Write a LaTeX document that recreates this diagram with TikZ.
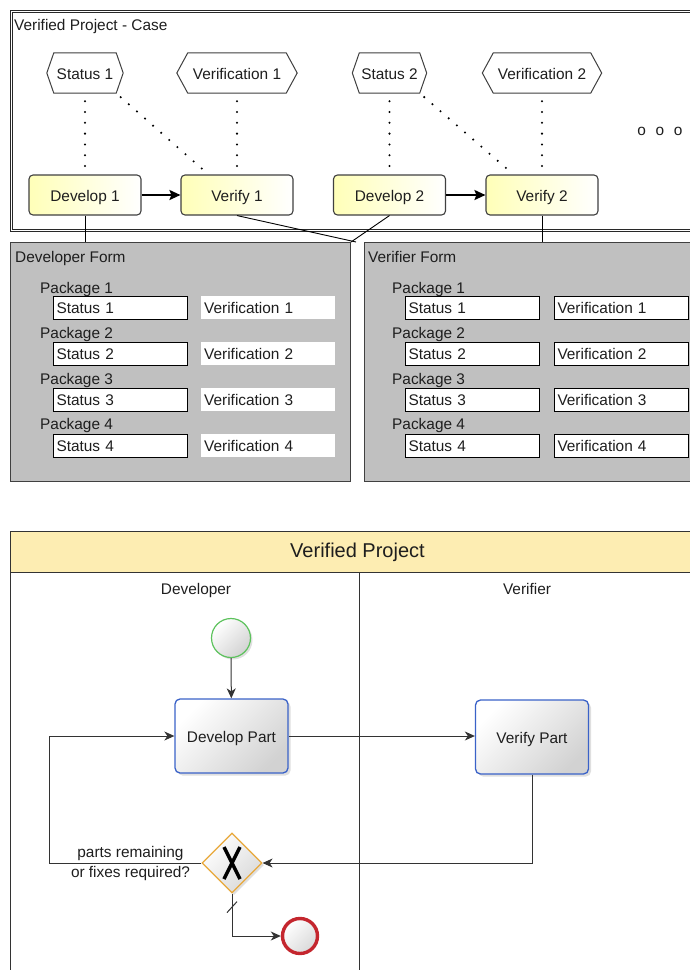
\documentclass[tikz,border=0pt]{standalone}
\usepackage{fontspec}
\setmainfont{Liberation Sans}
\usetikzlibrary{arrows.meta,shapes.geometric,shadows,calc}
\definecolor{txt}{HTML}{1E1E1E}
\definecolor{frame}{HTML}{282828}
\definecolor{edge}{HTML}{404040}
\definecolor{yel}{HTML}{FFFF9A}
\definecolor{formgray}{HTML}{C0C0C0}
\definecolor{poolyellow}{HTML}{FDEDB2}
\definecolor{taskblue}{HTML}{3A62C8}
\definecolor{startgreen}{HTML}{5CC25C}
\definecolor{gwor}{HTML}{E8A83A}
\definecolor{endred}{HTML}{C4262E}
\definecolor{seqcol}{HTML}{333333}
\newcommand{\fsz}{\fontsize{15.4}{18.5}\selectfont}
\begin{document}
\begin{tikzpicture}[x=1pt,y=-1pt,
  every node/.style={font=\fsz, text=txt},
  tb/.style={text height=12pt, text depth=0pt},
  lbl/.style={anchor=west, inner sep=0pt, tb},
  task/.style={draw=edge, line width=1.1pt, rounded corners=4pt, left color=yel!70, right color=white, minimum width=112pt, minimum height=40pt, inner sep=0pt, tb},
  hexbox/.style={minimum height=40pt, inner sep=0pt},
  hexline/.style={draw=edge, line width=1pt, fill=white},
  dots/.style={draw=black, line width=2.3pt, line cap=round, dash pattern=on 0pt off 10.8pt},
  bigflow/.style={draw=black, line width=2pt, -{Stealth[length=11pt,width=10pt,inset=2pt]}},
  conn/.style={draw=black, line width=0.9pt},
  form/.style={draw=edge, fill=formgray, line width=1pt, inner sep=0pt, anchor=north west},
  fieldb/.style={draw=black, line width=1pt, fill=white, anchor=west, text width=128pt, inner xsep=3pt, inner ysep=0pt, minimum height=23pt, align=left, tb},
  fieldn/.style={fill=white, anchor=west, text width=128pt, inner xsep=3pt, inner ysep=0pt, minimum height=23pt, align=left, tb},
  pool/.style={draw=seqcol, line width=1pt, inner sep=0pt, anchor=north west},
  bpmntask/.style={draw=taskblue, line width=1.3pt, rounded corners=5pt, top color=white, bottom color=gray!35, shading angle=45, minimum width=113pt, minimum height=74pt, inner sep=0pt, tb, drop shadow={opacity=0.25, shadow xshift=2.5pt, shadow yshift=-2.5pt}},
  seq/.style={draw=seqcol, line width=1pt, -{Stealth[length=10pt,width=9pt,inset=3pt]}},
  seqline/.style={draw=seqcol, line width=1pt}
]
\useasboundingbox (0,0) rectangle (690,970);

% ---------- top frame ----------
\draw[draw=frame, line width=1.3pt, double=white, double distance=1.2pt] (11.5,11.5) rectangle (700,230.5);
\node[lbl] (casetitle) at (14,24) {Verified Project - Case};

% forms
\node[form, minimum width=340pt, minimum height=239pt] (devform) at (10,242) {};
\node[form, minimum width=345pt, minimum height=239pt] (verform) at (364,242) {};
\node[lbl] (devtitle) at (15,256) {Developer Form};
\node[lbl] (vertitle) at (368,256) {Verifier Form};
\foreach \i [evaluate=\i as \yp using 287+45.6*(\i-1), evaluate=\i as \yb using 307.5+46*(\i-1)] in {1,...,4} {
  \node[lbl] (dpk\i) at (40,\yp) {Package \i};
  \node[fieldb] (dst\i) at (53,\yb) {Status \i};
  \node[fieldn] (dvf\i) at (201,\yb) {Verification \i};
  \node[lbl] (vpk\i) at (392,\yp) {Package \i};
  \node[fieldb] (vst\i) at (405,\yb) {Status \i};
  \node[fieldb] (vvf\i) at (554,\yb) {Verification \i};
}

% tasks
\node[task] (d1) at (85,195) {Develop 1};
\node[task] (v1) at (237,195) {Verify 1};
\node[task] (d2) at (389.5,195) {Develop 2};
\node[task] (v2) at (542,195) {Verify 2};

% hexagon data objects
\node[hexbox, minimum width=62pt] (s1) at (85,73) {};
\node[hexbox, minimum width=98pt] (h1) at (237,73) {};
\node[hexbox, minimum width=60pt] (s2) at (389.5,73) {};
\node[hexbox, minimum width=97pt] (h2) at (542,73) {};
\foreach \n/\e in {s1/7, h1/11, s2/7, h2/11}
  \draw[hexline] (\n.north west) -- (\n.north east) -- ([xshift=\e pt]\n.east) -- (\n.south east) -- (\n.south west) -- ([xshift=-\e pt]\n.west) -- cycle;
\node[tb] at (s1) {Status 1};
\node[tb] at (h1) {Verification 1};
\node[tb] at (s2) {Status 2};
\node[tb] at (h2) {Verification 2};

% dotted associations
\draw[dots, shorten <=8pt, shorten >=8pt] (s1.south) -- (d1.north);
\draw[dots, shorten <=8pt, shorten >=8pt] (h1.south) -- (v1.north);
\draw[dots, shorten <=8pt, shorten >=8pt] (s2.south) -- (d2.north);
\draw[dots, shorten <=8pt, shorten >=8pt] (h2.south) -- (v2.north);
\draw[dots, shorten <=6pt, shorten >=3pt] (s1.south east) -- ($(v1.north west)+(28,0)$);
\draw[dots, shorten <=6pt, shorten >=3pt] (s2.south east) -- ($(v2.north west)+(28,0)$);

% flows
\draw[bigflow] (d1) -- (v1);
\draw[bigflow] (d2) -- (v2);

\node (more) at (660,131) {o\hspace{9.7pt}o\hspace{9.7pt}o};

% links to forms
\draw[conn] (d1.south) -- (d1.south |- devform.north);
\draw[conn] (v2.south) -- (v2.south |- verform.north);
\draw[conn] (v1.south) -- ([xshift=5pt]devform.north east);
\draw[conn] (d2.south) -- (devform.north east);

% ---------- pool ----------
\node[pool, fill=poolyellow, minimum width=694pt, minimum height=41pt, font=\fontsize{20}{24}\selectfont] (poolhead) at (10,531) {Verified Project};
\node[pool, minimum width=349pt, minimum height=420pt] (devlane) at (10,572) {};
\node[pool, minimum width=345pt, minimum height=420pt] (verlane) at (359,572) {};
\node[tb] (devlbl) at (196,588) {Developer};
\node[tb] (verlbl) at (527,588) {Verifier};

\node[circle, draw=startgreen, line width=1.2pt, minimum size=39pt, inner sep=0pt, top color=white, bottom color=gray!35, shading angle=45, drop shadow={opacity=0.25, shadow xshift=2pt, shadow yshift=-2pt}] (start) at (231,638) {};
\node[bpmntask] (dp) at (231.5,736) {Develop Part};
\node[bpmntask] (vp) at (532,737) {Verify Part};
\node[diamond, draw=gwor, line width=1.2pt, minimum width=60pt, minimum height=60pt, inner sep=0pt, top color=white, bottom color=gray!30, shading angle=45, drop shadow={opacity=0.25, shadow xshift=2pt, shadow yshift=-2pt}] (gw) at (232,863) {};
\draw[line width=3.4pt, black] ($(gw.center)+(-8,-16)$) -- ($(gw.center)+(8,16)$);
\draw[line width=3.4pt, black] ($(gw.center)+(8,-16)$) -- ($(gw.center)+(-8,16)$);
\node[circle, draw=endred, line width=3.4pt, minimum size=35pt, inner sep=0pt, top color=white, bottom color=gray!30, shading angle=45] (endev) at (300,936) {};

\draw[seq] (start) -- (dp);
\draw[seq] (dp.east) -- (dp.east -| vp.west);
\draw[seq] (vp.south) |- (gw.east);
\coordinate (loop) at (49,863);
\draw[seq] (gw.west) -- (loop) |- (dp.west);
\draw[seq] (gw.south) |- (endev.west);
\draw[seqline] ($(gw.south)+(-5,19)$) -- ($(gw.south)+(5,8)$);
\node[align=center, inner sep=0pt, font=\fontsize{15.4}{20}\selectfont] (cond) at (130.5,864) {parts remaining\\or fixes required?};
\end{tikzpicture}
\end{document}
